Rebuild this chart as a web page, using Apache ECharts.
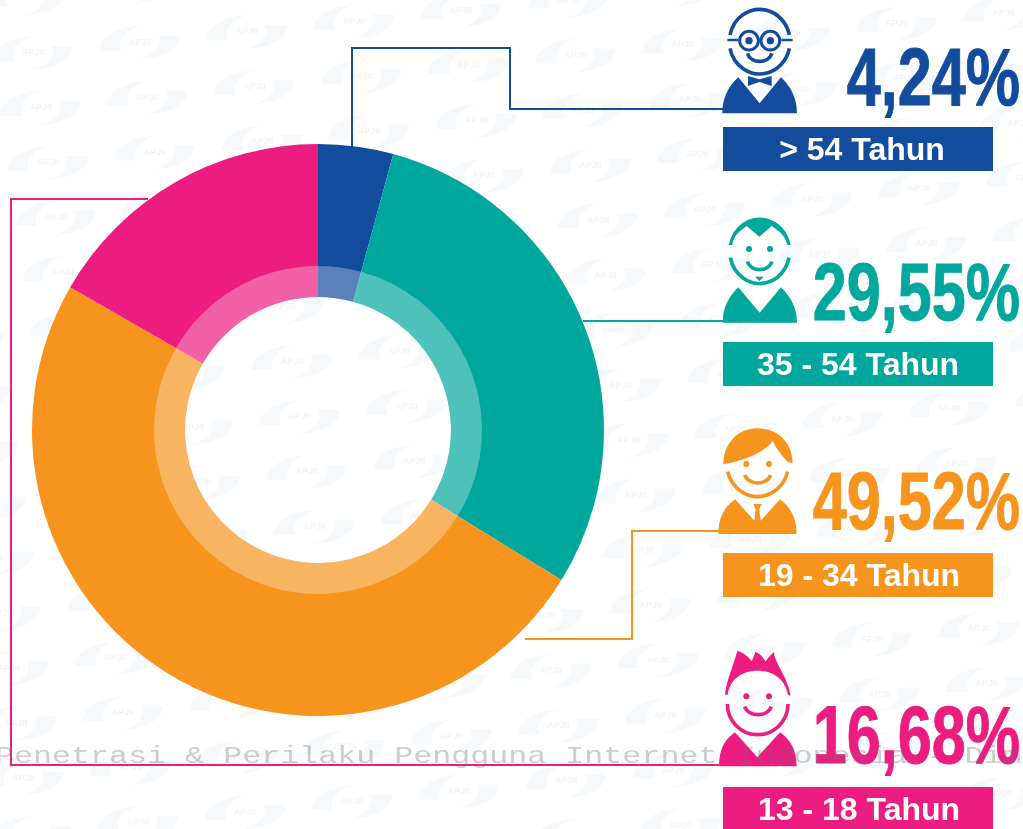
<!DOCTYPE html>
<html>
<head>
<meta charset="utf-8">
<title>Pengguna Internet per Usia</title>
<style>
  html, body { margin: 0; padding: 0; background: #fff; }
  #chart { width: 1023px; height: 829px; }
</style>
<script src="https://cdn.jsdelivr.net/npm/echarts@6/dist/echarts.min.js"></script>
</head>
<body>
<div id="chart"></div>
<script>
// data, clockwise from 12 o'clock
const categories = ['> 54 Tahun', '35 - 54 Tahun', '19 - 34 Tahun', '13 - 18 Tahun']
const shares = [4.24, 29.55, 49.52, 16.68]
const colors = ['#134c9c', '#00a79d', '#f7941e', '#ed1c80']
const captionText = 'Penetrasi & Perilaku Pengguna Internet Indonesia - Dimensi'

const chart = echarts.init(document.getElementById('chart'))
const bold = '"Liberation Sans", sans-serif'

// background logo, tiled over the page
const watermark = () => {
  const out = []
  for (let i = -2; i < 13; i++) {
    for (let j = -2; j < 19; j++) {
      const x = 33 + i * 107 + j * 7.5
      const y = 53 - i * 10.5 + j * 55
      if (x < -50 || x > 1070 || y < -30 || y > 860) continue
      out.push({
        type: 'group', x, y,
        children: [
          { type: 'path', shape: { pathData: 'M-40,8 C-40,-8 -20,-16 2,-17 C-12,-14 -20,-6 -20,2 C-20,4 -19,7 -18,8 Z' }, style: { fill: '#f6f9fb' } },
          { type: 'path', shape: { pathData: 'M40,-7 C40,8 20,16 -2,17 C12,14 20,6 20,-2 C20,-4 19,-6 18,-7 Z' }, style: { fill: '#f6f9fb' } },
          { type: 'text', style: { text: 'APJII', x: 0, y: 0, align: 'center', verticalAlign: 'middle', fill: '#f1f4f6', font: 'bold 9px "Liberation Sans"' } }
        ]
      })
    }
  }
  return out
}

// connector lines from the ring to the icons
const connectorPaths = [
  'M352,158 L352,48 L510,48 L510,109 L723,109',
  'M583,321 L723,321',
  'M525,639 L632,639 L632,531 L719,531',
  'M148,199 L11,199 L11,765 L719,765'
]
const connectors = () => connectorPaths.map((p, i) => ({
  type: 'path', shape: { pathData: p },
  style: { fill: 'none', stroke: colors[i], lineWidth: 2 }
}))

// icons, drawn in 3x units inside a group
const dot = (cx, cy, r, fill) => ({ type: 'circle', shape: { cx, cy, r }, style: { fill } })
const line = (p, stroke, w) => ({ type: 'path', shape: { pathData: p }, style: { fill: 'none', stroke, lineWidth: w } })
const solid = (p, fill) => ({ type: 'path', shape: { pathData: p }, style: { fill } })
const smile = (x1, x2, y, d, c) => line(`M${x1},${y} C${x1 + 12},${y + d} ${x2 - 12},${y + d} ${x2},${y}`, c, 11)
const group = (y, children) => ({ type: 'group', x: 700, y, scaleX: 1 / 3, scaleY: 1 / 3, children })

const iconOld = (c) => group(0, [
  line('M90,105 A91,97 0 0 1 268,105', c, 11),
  line('M90,145 A91,97 0 0 0 268,145', c, 11),
  line('M82,120 L115,120 M244,120 L278,120 M176,120 L182,120', c, 7),
  { type: 'circle', shape: { cx: 147, cy: 122, r: 28 }, style: { fill: '#fff', stroke: c, lineWidth: 9 } },
  { type: 'circle', shape: { cx: 211, cy: 122, r: 28 }, style: { fill: '#fff', stroke: c, lineWidth: 9 } },
  dot(147, 122, 11, c), dot(211, 122, 11, c),
  smile(142, 216, 160, 32, c),
  solid('M67,340 C67,295 85,258 115,232 L179,310 L243,232 C272,258 291,295 291,340 Z', c),
  solid('M144,228 L178,238 L215,228 L215,258 L178,246 L144,258 Z', c)
])
const iconMid = (c) => group(200, [
  solid('M86,135 A95,104 0 0 1 272,135 L262,135 C258,118 250,105 238,95 L215,78 L178,110 L140,78 L118,95 C106,105 100,118 96,135 Z', c),
  line('M91,173 A90,98 0 0 0 267,173', c, 11),
  dot(147, 147, 9, c), dot(210, 147, 9, c),
  smile(142, 216, 185, 32, c),
  solid('M165,230 L192,230 L178,243 Z', c),
  solid('M68,368 C68,325 85,290 115,262 L179,338 L243,262 C272,290 291,325 291,368 Z', c)
])
const iconYoung = (c) => group(410, [
  solid('M70,163 C70,100 115,55 172,55 C235,55 278,100 278,160 L262,155 C245,135 228,115 218,93 C190,130 130,152 70,163 Z', c),
  line('M83,185 A93,100 0 0 0 263,185', c, 11),
  dot(139, 162, 9, c), dot(207, 162, 9, c),
  smile(134, 212, 195, 32, c),
  solid('M55,372 C55,325 72,292 105,268 L163,332 L167,298 L160,282 L185,282 L178,298 L182,332 L240,268 C272,292 290,325 290,372 Z', c)
])
const iconTeen = (c) => group(629, [
  solid('M75,197 C78,160 100,110 112,65 C125,70 145,80 155,97 C160,85 165,75 165,68 C178,72 190,85 197,97 C205,85 215,75 222,68 C222,100 262,140 272,200 L264,197 C255,150 220,125 173,125 C125,125 90,150 83,197 Z', c),
  line('M82,225 A91,92 0 0 0 264,225', c, 11),
  dot(139, 202, 9, c), dot(207, 202, 9, c),
  smile(134, 214, 233, 32, c),
  solid('M57,412 C57,365 72,332 105,310 L172,385 L240,310 C272,332 290,365 290,412 Z', c)
])

// percent figures and banners
const bigMid = [82, 297, 506, 740]
const bannerTop = [127, 342, 553, 787]
const bannerMid = [862, 858, 859, 859]

const figures = () => shares.map((v, i) => ({
  type: 'text', x: 1020, y: bigMid[i], scaleX: 0.745,
  style: {
    text: v.toFixed(2).replace('.', ',') + '%',
    align: 'right', verticalAlign: 'middle',
    fill: colors[i], stroke: colors[i], lineWidth: 1,
    font: `bold 82px ${bold}`
  }
}))
const banners = () => categories.flatMap((c, i) => [
  { type: 'rect', shape: { x: 723, y: bannerTop[i], width: 270, height: 44 }, style: { fill: colors[i] } },
  {
    type: 'text', x: bannerMid[i], y: bannerTop[i] + 24,
    style: { text: c, align: 'center', verticalAlign: 'middle', fill: '#fff', font: `bold 32px ${bold}` }
  }
])

const caption = () => ({
  type: 'text', x: -5, y: 757, scaleX: 1.32,
  style: { text: captionText, align: 'left', verticalAlign: 'middle', fill: 'rgba(110,110,110,0.35)', font: '24px "Liberation Mono", monospace' }
})

const option = {
  animation: false,
  backgroundColor: '#fff',
  series: [
    {
      // everything around the ring: logo tiles, connectors, icons, figures, banners
      type: 'custom',
      coordinateSystem: 'none',
      silent: true,
      z: 1,
      data: [0],
      renderItem: () => ({
        type: 'group',
        children: [
          ...watermark(),
          ...connectors(),
          iconOld(colors[0]), iconMid(colors[1]), iconYoung(colors[2]), iconTeen(colors[3]),
          ...figures(),
          ...banners(),
          caption()
        ]
      })
    },
    {
      type: 'pie',
      silent: true,
      z: 2,
      center: [318, 430],
      radius: [133, 286],
      startAngle: 90,
      label: { show: false },
      labelLine: { show: false },
      data: categories.map((name, i) => ({ name, value: shares[i], itemStyle: { color: colors[i] } }))
    },
    {
      // lighter inner band
      type: 'pie',
      silent: true,
      z: 3,
      center: [318, 430],
      radius: [133, 164],
      startAngle: 90,
      label: { show: false },
      labelLine: { show: false },
      itemStyle: { color: 'rgba(255,255,255,0.3)' },
      data: categories.map((name, i) => ({ name, value: shares[i] }))
    }
  ]
}
chart.setOption(option)
</script>
</body>
</html>
